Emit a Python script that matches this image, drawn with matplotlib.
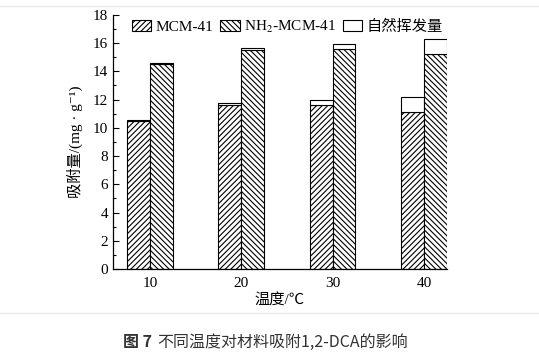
import matplotlib.pyplot as plt
import numpy as np
from matplotlib.ticker import MultipleLocator
from matplotlib.lines import Line2D

# data
temps = [10, 20, 30, 40]
mcm41 = [10.45, 11.65, 11.6, 11.1]
mcm41_evap = [0.1, 0.1, 0.38, 1.07]
nh2_mcm41 = [14.5, 15.52, 15.55, 15.22]
nh2_evap = [0.1, 0.1, 0.4, 1.05]

serif = ['Liberation Serif', 'Noto Sans CJK SC', 'DejaVu Serif']
cjk = ['Noto Sans CJK SC', 'DejaVu Sans']
plt.rcParams['font.family'] = serif
plt.rcParams['mathtext.fontset'] = 'stix'
plt.rcParams['hatch.linewidth'] = 0.8

fig = plt.figure(figsize=(5.39, 3.54), dpi=100)
ax = fig.add_axes([0.2096, 0.240, 0.6194, 0.718])

w = 2.5
x = np.array(temps, dtype=float)
kw = dict(width=w, edgecolor='black', linewidth=0.8)
b1 = ax.bar(x - w / 2, mcm41, color='white', hatch='//////', **kw)
ax.bar(x - w / 2, mcm41_evap, bottom=mcm41, color='white', **kw)
b2 = ax.bar(x + w / 2, nh2_mcm41, color='white', hatch='\\\\\\\\\\\\', **kw)
b3 = ax.bar(x + w / 2, nh2_evap, bottom=nh2_mcm41, color='white', **kw)

ax.set_xlim(5.95, 42.5)
ax.set_ylim(0, 18)
ax.set_xticks(temps)
ax.yaxis.set_major_locator(MultipleLocator(2))
ax.yaxis.set_minor_locator(MultipleLocator(1))
ax.tick_params(axis='y', which='major', direction='in', length=4, width=0.8, labelsize=11)
ax.tick_params(axis='y', which='minor', direction='in', length=2, width=0.8)
ax.tick_params(axis='x', length=0, labelsize=11, pad=6)
ax.spines['top'].set_visible(False)
ax.spines['right'].set_visible(False)
for s in ['left', 'bottom']:
    ax.spines[s].set_linewidth(0.9)

ax.set_ylabel('吸附量/(mg · g⁻¹)', fontsize=11, family=serif, labelpad=7)
ax.set_xlabel('温度/℃', fontsize=11, family=serif, labelpad=2)

leg = ax.legend([b1, b2, b3], ['MCM-41', 'NH$_2$-MCM-41', '自然挥发量'],
                ncol=3, frameon=False, loc='upper left',
                bbox_to_anchor=(0.03, 1.02), fontsize=11,
                handlelength=1.25, handleheight=0.75, handletextpad=0.3,
                columnspacing=0.45, borderaxespad=0.2)
for t in leg.get_texts():
    t.set_family(serif)

# page decorations: light separators and caption
fig.add_artist(Line2D([0, 1], [0.983, 0.983], color='#e4e8ec', linewidth=1))
fig.add_artist(Line2D([0, 1], [0.116, 0.116], color='#e4e8ec', linewidth=1))
fig.text(0.228, 0.020, '图 7', fontsize=11.5, family=cjk, weight='bold', color='#333333')
fig.text(0.292, 0.020, '不同温度对材料吸附1,2-DCA的影响', fontsize=11.5, family=cjk, color='#333333')

fig.savefig('out.png', dpi=100)
